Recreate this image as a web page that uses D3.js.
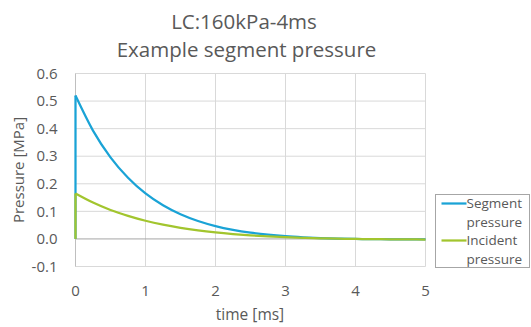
<!DOCTYPE html>
<html>
<head>
<meta charset="utf-8">
<script src="https://cdn.jsdelivr.net/npm/d3@7"></script>
<style>
  body { margin: 0; background: #fff; }
  text { font-family: "Open Sans", sans-serif; fill: #595959; }
</style>
</head>
<body>
<div id="chart"></div>
<script>
// data (time in ms, pressure in MPa)
var times = [0, 0, 0.25, 0.5, 0.75, 1, 1.25, 1.5, 1.75, 2, 2.25, 2.5, 2.75, 3, 3.25, 3.5, 3.75, 4, 4.25, 4.5, 4.75, 5];
var segment = [0, 0.52, 0.393, 0.296, 0.222, 0.165, 0.122, 0.0895, 0.065, 0.0466, 0.0329, 0.0227, 0.0153, 0.0098, 0.006, 0.0032, 0.0013, 0, -0.0008, -0.0014, -0.0016, -0.0018];
var incident = [0, 0.165, 0.132, 0.105, 0.0836, 0.0659, 0.0516, 0.0401, 0.0308, 0.0234, 0.0175, 0.0128, 0.0091, 0.0062, 0.004, 0.0023, 0.001, 0, -0.0008, -0.0014, -0.0018, -0.0021];
var xTicks = [0, 1, 2, 3, 4, 5];
var yTicks = [-0.1, 0, 0.1, 0.2, 0.3, 0.4, 0.5, 0.6];
var seriesNames = [["Segment", "pressure"], ["Incident", "pressure"]];
var seriesColors = ["#1aa3d6", "#a2c52e"];

var W = 531, H = 327;
var margin = {top: 73.5, right: 105.5, bottom: 60.5, left: 75.5},
    width = W - margin.left - margin.right,
    height = H - margin.top - margin.bottom;

var svg = d3.select("#chart").append("svg")
    .attr("width", W)
    .attr("height", H);

var g = svg.append("g")
    .attr("transform", "translate(" + margin.left + "," + margin.top + ")");

var x = d3.scaleLinear().domain([0, 5]).range([0, width]);
var y = d3.scaleLinear().domain([-0.1, 0.6]).range([height, 0]);

// gridlines
g.selectAll("line.vgrid")
    .data(xTicks)
    .enter().append("line")
    .attr("x1", d => x(d)).attr("x2", d => x(d))
    .attr("y1", 0).attr("y2", height)
    .attr("stroke", "#d9d9d9");

g.selectAll("line.hgrid")
    .data(yTicks)
    .enter().append("line")
    .attr("x1", 0).attr("x2", width)
    .attr("y1", d => y(d)).attr("y2", d => y(d))
    .attr("stroke", d => d === 0 ? "#a6a6a6" : "#d9d9d9");

// axis at x = 0
g.append("line")
    .attr("x1", x(0)).attr("x2", x(0))
    .attr("y1", 0).attr("y2", height)
    .attr("stroke", "#bfbfbf");

// tick labels (plain hyphen for negatives, like the original)
g.selectAll("text.ytick")
    .data(yTicks)
    .enter().append("text")
    .attr("x", -18)
    .attr("y", d => y(d))
    .attr("dy", "0.35em")
    .attr("text-anchor", "end")
    .style("font-size", "15px")
    .text(d => d.toFixed(1));

g.selectAll("text.xtick")
    .data(xTicks)
    .enter().append("text")
    .attr("x", d => x(d))
    .attr("y", height + 24)
    .attr("dy", "0.35em")
    .attr("text-anchor", "middle")
    .style("font-size", "15px")
    .text(d => d);

// lines
var pts = [segment, incident].map(vals => times.map((t, i) => [t, vals[i]]));
var curve = d3.line()
    .x(d => x(d[0]))
    .y(d => y(d[1]))
    .curve(d3.curveMonotoneX);
var straight = d3.line()
    .x(d => x(d[0]))
    .y(d => y(d[1]));

pts.forEach(function(p, i) {
    g.append("path")
        .attr("d", straight(p.slice(0, 2)))
        .attr("fill", "none")
        .attr("stroke", seriesColors[i])
        .attr("stroke-width", 2.25);
    g.append("path")
        .attr("d", curve(p.slice(1)))
        .attr("fill", "none")
        .attr("stroke", seriesColors[i])
        .attr("stroke-width", 2.25);
});

// titles
svg.append("text")
    .attr("x", 244).attr("y", 29)
    .attr("text-anchor", "middle")
    .style("font-size", "20.5px")
    .text("LC:160kPa-4ms");
svg.append("text")
    .attr("x", 246.5).attr("y", 57)
    .attr("text-anchor", "middle")
    .style("font-size", "20.5px")
    .text("Example segment pressure");

svg.append("text")
    .attr("x", 250).attr("y", 320)
    .attr("text-anchor", "middle")
    .style("font-size", "15.5px")
    .text("time [ms]");

svg.append("text")
    .attr("transform", "translate(24," + (margin.top + height / 2) + ") rotate(-90)")
    .attr("text-anchor", "middle")
    .style("font-size", "15px")
    .text("Pressure [MPa]");

// legend
var legend = svg.append("g").attr("transform", "translate(435.5,194.5)");
legend.append("rect")
    .attr("width", 94).attr("height", 73)
    .attr("fill", "#fff")
    .attr("stroke", "#a6a6a6");

seriesNames.forEach(function(name, i) {
    var yy = 9 + i * 37;
    legend.append("line")
        .attr("x1", 6).attr("x2", 31)
        .attr("y1", yy).attr("y2", yy)
        .attr("stroke", seriesColors[i])
        .attr("stroke-width", 2.25);
    legend.append("text")
        .attr("x", 31).attr("y", yy)
        .attr("dy", "0.35em")
        .style("font-size", "13.5px")
        .text(name[0]);
    legend.append("text")
        .attr("x", 31).attr("y", yy + 19)
        .attr("dy", "0.35em")
        .style("font-size", "13.5px")
        .text(name[1]);
});
</script>
</body>
</html>
